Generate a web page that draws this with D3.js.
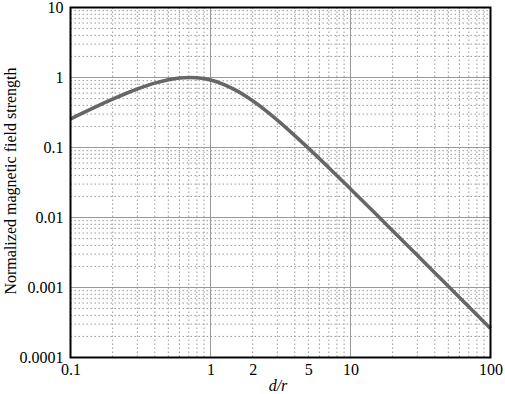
<!DOCTYPE html>
<html lang="en">
<head>
<meta charset="UTF-8">
<title>Normalized magnetic field strength</title>
<script src="https://d3js.org/d3.v7.min.js"></script>
<style>
    body { margin: 0; background: #fff; }
</style>
</head>
<body>
<svg id="main" width="505" height="394" font-family="Liberation Serif, Times New Roman, serif"></svg>
<script>
    // values
    let ratio = [0.1, 0.15, 0.2, 0.3, 0.4, 0.5, 0.6, 0.7, 0.8, 1, 1.2, 1.5, 2, 3, 4, 5, 7, 10, 15, 20, 30, 50, 70, 100];
    let strength = [0.256, 0.377, 0.49, 0.685, 0.832, 0.93, 0.983, 1.0, 0.99, 0.919, 0.818, 0.665, 0.465, 0.2465, 0.148, 0.098, 0.0514, 0.0256, 0.0115, 0.00647, 0.00288, 0.00104, 0.00053, 0.00026];
    let xTickVals = [0.1, 1, 2, 5, 10, 100];
    let xTickText = ['0.1', '1', '2', '5', '10', '100'];
    let yTickVals = [0.0001, 0.001, 0.01, 0.1, 1, 10];
    let yTickText = ['0.0001', '0.001', '0.01', '0.1', '1', '10'];

    let fontFam = 'Liberation Serif, Times New Roman, serif';
    let svg = d3.select('#main');
    let plot = {left: 70.5, right: 490.5, top: 7.5, bottom: 357.5};

    let xScale = d3.scaleLog().domain([0.1, 100]).range([plot.left, plot.right]);
    let yScale = d3.scaleLog().domain([0.0001, 10]).range([plot.bottom, plot.top]);

    // minor grid values (2..9 in every decade)
    let minorX = [], minorY = [];
    [0.1, 1, 10].forEach(function (d) {
        for (let k = 2; k <= 9; k++) minorX.push(d * k);
    });
    [0.0001, 0.001, 0.01, 0.1, 1].forEach(function (d) {
        for (let k = 2; k <= 9; k++) minorY.push(d * k);
    });

    let grid = svg.append('g');
    grid.selectAll('.mx').data(minorX).enter().append('line')
        .attr('x1', d => xScale(d)).attr('x2', d => xScale(d))
        .attr('y1', plot.top).attr('y2', plot.bottom)
        .attr('stroke', '#999').attr('stroke-width', 1).attr('stroke-dasharray', '1.5,2.5');
    grid.selectAll('.my').data(minorY).enter().append('line')
        .attr('y1', d => yScale(d)).attr('y2', d => yScale(d))
        .attr('x1', plot.left).attr('x2', plot.right)
        .attr('stroke', '#999').attr('stroke-width', 1).attr('stroke-dasharray', '1.5,2.5');
    grid.selectAll('.Mx').data([1, 10]).enter().append('line')
        .attr('x1', d => xScale(d)).attr('x2', d => xScale(d))
        .attr('y1', plot.top).attr('y2', plot.bottom)
        .attr('stroke', '#999').attr('stroke-width', 1);
    grid.selectAll('.My').data([0.001, 0.01, 0.1, 1]).enter().append('line')
        .attr('y1', d => yScale(d)).attr('y2', d => yScale(d))
        .attr('x1', plot.left).attr('x2', plot.right)
        .attr('stroke', '#999').attr('stroke-width', 1);

    // curve
    let points = ratio.map((r, i) => [r, strength[i]]);
    let line = d3.line()
        .x(d => xScale(d[0]))
        .y(d => yScale(d[1]))
        .curve(d3.curveMonotoneX);
    svg.append('path')
        .datum(points)
        .attr('d', line)
        .attr('fill', 'none')
        .attr('stroke', '#666')
        .attr('stroke-width', 3.5);

    // frame
    svg.append('rect')
        .attr('x', plot.left).attr('y', plot.top)
        .attr('width', plot.right - plot.left).attr('height', plot.bottom - plot.top)
        .attr('fill', 'none').attr('stroke', '#000').attr('stroke-width', 2);

    // axes (labels only)
    let xAxis = d3.axisBottom(xScale).tickValues(xTickVals)
        .tickFormat((d, i) => xTickText[i]).tickSize(0).tickPadding(6);
    let gx = svg.append('g').attr('transform', 'translate(0,' + plot.bottom + ')').call(xAxis)
        .attr('font-family', fontFam).attr('font-size', 16);
    gx.select('.domain').remove();

    let yAxis = d3.axisLeft(yScale).tickValues(yTickVals)
        .tickFormat((d, i) => yTickText[i]).tickSize(0).tickPadding(7);
    let gy = svg.append('g').attr('transform', 'translate(' + plot.left + ',0)').call(yAxis)
        .attr('font-family', fontFam).attr('font-size', 16);
    gy.select('.domain').remove();

    svg.append('text')
        .attr('x', 278).attr('y', 391)
        .attr('text-anchor', 'middle')
        .attr('font-size', 16).attr('font-style', 'italic')
        .text('d/r');

    svg.append('text')
        .attr('transform', 'translate(16,181) rotate(-90)')
        .attr('text-anchor', 'middle')
        .attr('font-size', 16)
        .text('Normalized magnetic field strength');
</script>
</body>
</html>
